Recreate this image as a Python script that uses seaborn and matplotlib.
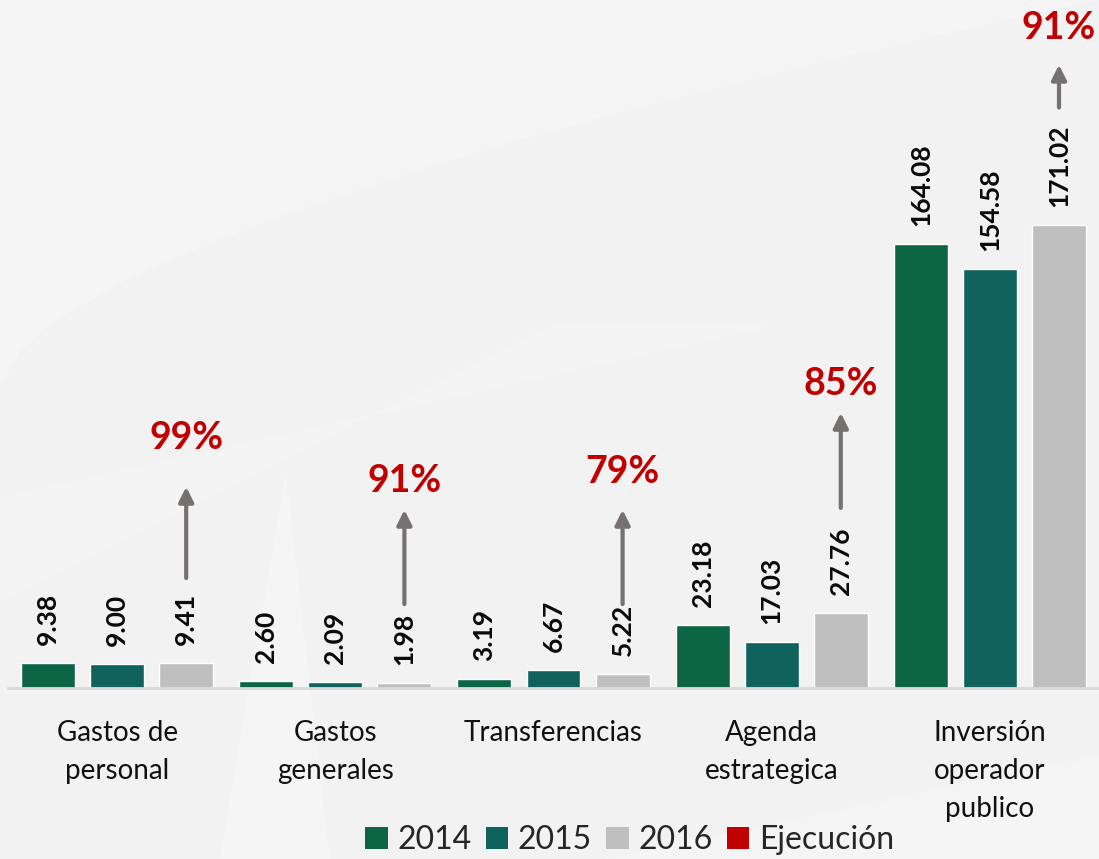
import matplotlib
matplotlib.use("Agg")
import matplotlib.pyplot as plt
import seaborn as sns
import pandas as pd
import numpy as np
from matplotlib.patches import Patch

categories = ["Gastos de\npersonal", "Gastos\ngenerales", "Transferencias",
              "Agenda\nestrategica", "Inversión\noperador\npublico"]
years = ["2014", "2015", "2016"]
v2014 = [9.38, 2.60, 3.19, 23.18, 164.08]
v2015 = [9.00, 2.09, 6.67, 17.03, 154.58]
v2016 = [9.41, 1.98, 5.22, 27.76, 171.02]
ejecucion = ["99%", "91%", "79%", "85%", "91%"]

# layout for execution arrows (data units): base, tip, text centre
arrow_base = [40.6, 31.0, 31.0, 66.5, 214.3]
arrow_tip = [74.3, 65.8, 65.8, 101.6, 230.1]
text_y = [92.4, 76.5, 79.8, 112.3, 243.8]

colors = ["#0C6646", "#10625C", "#BFBFBF"]
red = "#C00000"

sns.set_theme(style="white")
plt.rcParams["font.family"] = ["Lato", "DejaVu Sans"]

rows = []
for yr, vals in zip(years, [v2014, v2015, v2016]):
    for c, v in zip(categories, vals):
        rows.append({"cat": c, "year": yr, "value": v})
df = pd.DataFrame(rows)

fig = plt.figure(figsize=(10.99, 8.59), dpi=100)
fig.patch.set_facecolor("#F2F2F2")

# subtle light background shapes in a background axes
bg = fig.add_axes([0, 0, 1, 1], zorder=-10)
bg.set_xlim(0, 1)
bg.set_ylim(0, 1)
bg.axis("off")
t = np.linspace(0, 1, 60)
bg.fill_between(t, 0.55 + 0.45 * t ** 0.6, 1, color="white", alpha=0.3, lw=0)
bg.fill(np.r_[0, 0.5, 0.7, 0], np.r_[0.30, 0.62, 0.62, 0.42], color="white", alpha=0.18, lw=0)
bg.fill(np.r_[0.2, 0.26, 0.3], np.r_[0, 0.45, 0], color="white", alpha=0.25, lw=0)
bg.fill(np.r_[0.55, 1.0, 1.0], np.r_[0.0, 0.12, 0.0], color="white", alpha=0.25, lw=0)

ax = fig.add_axes([8 / 1099, 0.199, 1 - 8 / 1099, 0.801])
ax.set_facecolor("none")

sns.barplot(data=df, x="cat", y="value", hue="year", palette=colors,
            width=0.95, gap=0.22, ax=ax, legend=False, saturation=1)

for cont in ax.containers:
    ax.bar_label(cont, fmt="%.2f", rotation=90, padding=13,
                 fontsize=19, fontweight="bold", color="#0A0A0A")

# execution arrows over 2016 bars
bars2016 = ax.containers[2]
for i, bar in enumerate(bars2016):
    xc = bar.get_x() + bar.get_width() / 2
    ax.annotate("", xy=(xc, arrow_tip[i]), xytext=(xc, arrow_base[i]),
                arrowprops=dict(arrowstyle="-|>", lw=3, color="#767171",
                                mutation_scale=22, shrinkA=0, shrinkB=0))
    ax.text(xc, text_y[i], ejecucion[i], ha="center", va="center",
            fontsize=27, fontweight="bold", color=red)

ax.set_xlim(-0.5, 4.5)
ax.set_ylim(0, 254)
ax.set_xlabel("")
ax.set_ylabel("")
ax.set_yticks([])
ax.tick_params(axis="x", length=0, pad=23, labelsize=20, colors="#111111")
for lbl in ax.get_xticklabels():
    lbl.set_linespacing(1.58)
for s in ["left", "right", "top"]:
    ax.spines[s].set_visible(False)
ax.spines["bottom"].set_color("#D9D9D9")
ax.spines["bottom"].set_linewidth(2)

handles = [Patch(facecolor=c, edgecolor="none") for c in colors] + \
          [Patch(facecolor=red, edgecolor="none")]
fig.legend(handles, years + ["Ejecución"], loc="center", bbox_to_anchor=(0.573, 0.022),
           ncol=4, frameon=False, fontsize=23, handlelength=0.7, handleheight=0.7,
           handletextpad=0.3, columnspacing=0.45, borderpad=0)

fig.savefig("out.png", dpi=100, facecolor=fig.get_facecolor())
